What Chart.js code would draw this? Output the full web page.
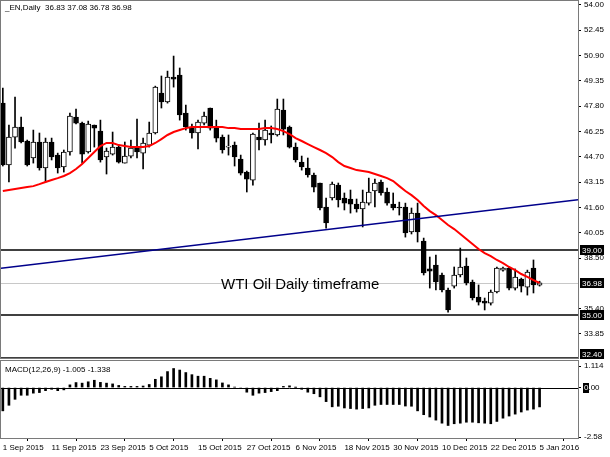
<!DOCTYPE html>
<html><head><meta charset="utf-8">
<script src="https://cdn.jsdelivr.net/npm/chart.js@4.4.1/dist/chart.umd.min.js"></script>
<style>
html,body{margin:0;padding:0;background:#fff;}
#wrap{position:relative;width:610px;height:457px;overflow:hidden;background:#fff;}
#main{position:absolute;left:0;top:0;}
#macd{position:absolute;left:0;top:359px;}
</style></head><body>
<div id="wrap"><canvas id="main" width="610" height="359"></canvas><canvas id="macd" width="610" height="98"></canvas></div>
<script>
// ---- data ----
const opens  = [47.98,44.19,45.90,46.52,45.66,44.62,45.60,44.01,45.60,44.80,44.07,44.99,47.13,46.76,44.99,46.64,46.27,44.68,44.86,45.29,44.31,44.74,45.23,44.92,45.41,46.15,48.60,48.05,49.58,49.70,47.37,46.52,46.15,46.76,47.68,46.52,45.90,45.29,45.41,44.56,43.76,43.27,45.90,45.72,46.15,46.03,47.56,46.52,45.29,44.37,44.01,43.58,43.09,41.62,42.17,42.96,42.17,42.11,41.80,41.50,41.86,42.60,43.15,42.54,41.80,41.62,41.62,40.09,41.25,39.54,37.83,38.07,37.46,36.54,36.78,37.46,38.01,37.03,36.11,35.87,35.74,36.42,37.76,37.89,36.66,37.21,36.72,37.89,36.83];
const highs  = [48.90,46.64,48.35,47.13,45.72,46.33,46.15,45.84,45.84,44.92,45.11,47.37,47.62,46.82,46.88,46.64,46.94,45.23,46.21,45.41,45.60,45.72,47.01,45.84,46.82,49.02,49.64,49.94,50.86,50.13,47.86,46.70,46.94,47.43,47.68,46.94,46.03,46.03,45.60,44.80,43.82,46.15,46.76,46.94,46.58,48.23,48.23,46.58,45.54,44.74,44.62,43.70,43.09,42.17,43.15,43.09,42.48,42.66,42.11,42.66,43.39,43.33,43.27,42.78,42.48,41.92,41.86,41.56,41.86,39.72,38.56,38.68,37.58,36.66,37.95,39.11,38.50,37.15,36.85,36.05,36.54,37.95,37.95,37.95,37.83,37.27,37.76,38.38,37.08];
const lows   = [44.13,43.15,45.23,45.54,44.13,44.31,43.88,43.15,44.50,43.70,43.76,44.80,46.70,44.31,44.92,45.29,44.37,43.64,44.80,44.31,44.31,44.62,44.62,43.95,45.29,46.09,47.68,47.98,48.96,46.94,46.33,45.84,45.17,46.64,46.33,45.60,44.92,44.80,44.13,43.58,42.54,42.96,45.11,45.41,45.54,45.96,46.03,45.23,44.37,43.88,43.45,42.54,41.44,40.33,42.05,41.62,41.44,41.25,41.31,40.40,41.74,41.62,42.35,41.74,41.44,41.13,39.78,39.97,39.48,37.46,36.66,36.54,36.42,35.19,36.66,37.34,36.85,35.93,35.62,35.32,35.62,36.36,37.70,36.54,36.54,36.42,36.23,36.36,36.78];
const closes = [44.19,45.90,46.52,45.60,44.19,45.60,44.01,45.60,44.68,44.01,44.99,47.19,46.76,44.86,46.70,46.45,44.50,45.05,45.29,44.37,44.74,45.23,44.99,45.54,46.15,48.96,48.05,49.58,49.45,47.25,46.52,46.15,46.82,47.19,46.45,45.84,45.11,45.35,44.68,43.70,43.33,46.09,45.72,46.33,46.03,47.62,46.39,45.29,44.50,44.07,43.58,42.84,41.56,40.64,43.02,42.05,41.86,41.80,41.50,41.92,42.54,43.09,42.48,41.86,41.56,41.56,40.03,41.25,40.09,37.58,37.70,37.03,36.54,35.32,37.46,37.95,36.97,36.05,35.80,35.74,36.42,37.89,37.89,36.66,37.34,36.78,37.64,36.85,36.98];
const maValues = [42.60,42.66,42.72,42.78,42.84,42.90,43.02,43.15,43.27,43.39,43.52,43.70,43.95,44.25,44.62,44.99,45.35,45.54,45.54,45.41,45.35,45.29,45.29,45.29,45.35,45.54,45.78,46.03,46.21,46.33,46.45,46.52,46.52,46.52,46.52,46.52,46.52,46.45,46.45,46.39,46.39,46.39,46.39,46.45,46.45,46.39,46.27,46.09,45.84,45.66,45.47,45.29,45.11,44.92,44.68,44.37,44.13,44.01,43.88,43.82,43.76,43.64,43.52,43.39,43.21,42.90,42.60,42.35,42.05,41.68,41.37,41.13,40.82,40.52,40.27,39.97,39.66,39.36,39.05,38.80,38.62,38.38,38.19,37.95,37.76,37.52,37.34,37.15,36.97];
const macdHist = [-1.21,-0.92,-0.61,-0.40,-0.40,-0.29,-0.26,-0.16,-0.09,-0.16,-0.12,0.14,0.26,0.23,0.30,0.38,0.27,0.23,0.19,0.11,0.06,0.06,0.06,0.08,0.16,0.43,0.56,0.83,0.99,0.91,0.78,0.67,0.59,0.59,0.48,0.40,0.24,0.14,0.02,-0.05,-0.24,-0.40,-0.29,-0.26,-0.21,-0.16,0.06,0.09,0.01,-0.09,-0.24,-0.32,-0.48,-0.73,-1.00,-0.97,-1.06,-1.09,-1.12,-1.09,-1.06,-0.92,-0.88,-0.88,-0.88,-0.88,-0.96,-0.97,-1.21,-1.41,-1.53,-1.69,-1.85,-1.97,-1.88,-1.85,-1.80,-1.80,-1.83,-1.85,-1.88,-1.76,-1.59,-1.48,-1.38,-1.27,-1.17,-1.12,-1.005];
const trendX = [-0.3, 94.3];
const trendY = [37.87, 42.07];
const levelLines = [39.00, 35.00, 32.40];
const lastPrice = 36.98;
const priceTicks = [54.00,52.45,50.90,49.35,47.80,46.25,44.70,43.15,41.60,40.05,38.50,35.40,33.85];
const macdTicks = [1.114, 0, -2.58];
const macdZeroLevel = 0;
const dateLabels = ['1 Sep 2015','11 Sep 2015','23 Sep 2015','5 Oct 2015','15 Oct 2015','27 Oct 2015','6 Nov 2015','18 Nov 2015','30 Nov 2015','10 Dec 2015','22 Dec 2015','5 Jan 2016'];
const dateIndex = [0,8,16,24,32,40,48,56,64,72,80,88];
const headerText = '_EN,Daily  36.83 37.08 36.78 36.98';
const noteText = 'WTI Oil Daily timeframe';
const macdTitle = 'MACD(12,26,9) -1.005 -1.338';

// ---- config ----
const FONT = '"Liberation Sans", Arial, sans-serif';
Chart.defaults.font.family = FONT;
Chart.defaults.font.size = 8;
Chart.defaults.color = '#000';
const X_MIN = -0.3, X_MAX = 94.3;

const wickData = lows.map((l,i)=>({x:i, y:[l, highs[i]]}));
const bodyData = opens.map((o,i)=>({x:i, y:[o, closes[i]]}));
const bodyFill = opens.map((o,i)=> closes[i] >= o ? '#ffffff' : '#000000');

const framePlugin = {
  id:'frame',
  afterDatasetsDraw(chart){
    const {ctx, chartArea:a} = chart;
    ctx.save();
    ctx.strokeStyle = '#7a7a7a'; ctx.lineWidth = 1;
    ctx.strokeRect(Math.round(a.left)-0.5, Math.round(a.top)-0.5, Math.round(a.right-a.left)+1, Math.round(a.bottom-a.top)+1);
    ctx.restore();
  }
};

function boxLabel(ctx, x, y, text){
  ctx.font = '8px ' + FONT;
  const w = ctx.measureText(text).width + 4;
  ctx.fillStyle = '#000';
  ctx.fillRect(x, Math.round(y-5), w, 10);
  ctx.fillStyle = '#fff';
  ctx.textBaseline = 'middle'; ctx.textAlign = 'left';
  ctx.fillText(text, x+2, y+0.5);
}

const mainPlugin = {
  id:'mainExtras',
  beforeDatasetsDraw(chart){
    const {ctx, chartArea:a, scales:{y}} = chart;
    ctx.save();
    ctx.beginPath(); ctx.rect(a.left, a.top, a.right-a.left, a.bottom-a.top+2); ctx.clip();
    // bid line
    let py = Math.round(y.getPixelForValue(lastPrice))+0.5;
    ctx.strokeStyle = '#c8c8c8'; ctx.lineWidth = 1;
    ctx.beginPath(); ctx.moveTo(a.left, py); ctx.lineTo(a.right, py); ctx.stroke();
    // horizontal levels
    ctx.strokeStyle = '#000'; ctx.lineWidth = 1.3;
    levelLines.forEach(v=>{
      const p = Math.round(y.getPixelForValue(v));
      ctx.beginPath(); ctx.moveTo(a.left, p); ctx.lineTo(a.right, p); ctx.stroke();
    });
    ctx.restore();
  },
  afterDraw(chart){
    const {ctx, chartArea:a, scales:{y}} = chart;
    ctx.save();
    ctx.fillStyle = '#000'; ctx.textBaseline = 'middle'; ctx.textAlign='left';
    ctx.font = '8px ' + FONT;
    ctx.fillText(headerText, 5, 8);
    ctx.font = '15px ' + FONT;
    ctx.fillText(noteText, 221, y.getPixelForValue(lastPrice)+2);
    levelLines.forEach(v=>{
      let p = y.getPixelForValue(v);
      if (p > a.bottom - 4) p = a.bottom - 4;
      boxLabel(ctx, a.right+2, p, v.toFixed(2));
    });
    boxLabel(ctx, a.right+2, y.getPixelForValue(lastPrice), lastPrice.toFixed(2));
    ctx.restore();
  }
};

new Chart(document.getElementById('main'), {
  type:'bar',
  data:{ datasets:[
    { type:'line', data: trendX.map((x,i)=>({x, y:trendY[i]})), borderColor:'#00008b', borderWidth:1.5, pointRadius:0, order:0 },
    { type:'line', data: maValues.map((v,i)=>({x:i, y:v})), borderColor:'#ff0000', borderWidth:2, pointRadius:0, tension:0, order:1 },
    { type:'bar', data: bodyData, backgroundColor: bodyFill, borderColor:'#000', borderWidth:1, borderSkipped:false, barThickness:5, grouped:false, order:3 },
    { type:'bar', data: wickData, backgroundColor:'#000', borderWidth:0, barThickness:1, grouped:false, order:4 }
  ]},
  options:{
    responsive:false, animation:false, events:[],
    layout:{ padding:{left:1, top:1, right:0, bottom:1} },
    plugins:{ legend:{display:false}, tooltip:{enabled:false} },
    scales:{
      x:{ type:'linear', min:X_MIN, max:X_MAX, offset:false, display:false },
      y:{ type:'linear', position:'right', min:32.38, max:54.23,
          afterBuildTicks(s){ s.ticks = priceTicks.map(v=>({value:v})); },
          afterFit(s){ s.width = 32; s.paddingTop = 0; s.paddingBottom = 0; },
          ticks:{ callback:(v)=>Number(v).toFixed(2), padding:3, font:{size:8} },
          grid:{ drawOnChartArea:false, tickLength:3, color:'#000' },
          border:{ display:true, color:'#7a7a7a' } }
    }
  },
  plugins:[framePlugin, mainPlugin]
});

const macdPlugin = {
  id:'macdExtras',
  beforeDatasetsDraw(chart){
    const {ctx, chartArea:a, scales:{y}} = chart;
    const p = Math.round(y.getPixelForValue(macdZeroLevel))+0.5;
    ctx.save(); ctx.strokeStyle='#000'; ctx.lineWidth=1;
    ctx.beginPath(); ctx.moveTo(a.left,p); ctx.lineTo(a.right,p); ctx.stroke(); ctx.restore();
  },
  afterDraw(chart){
    const {ctx, chartArea:a, scales:{y}} = chart;
    ctx.save();
    ctx.fillStyle='#000'; ctx.textBaseline='middle'; ctx.textAlign='left';
    ctx.font = '8px ' + FONT;
    ctx.fillText(macdTitle, 5, a.top + 9);
    const p = y.getPixelForValue(macdZeroLevel);
    ctx.fillRect(a.right+5, Math.round(p-5), 6, 10);
    ctx.fillStyle='#fff'; ctx.fillText('0', a.right+6, p+0.5);
    ctx.restore();
  }
};

new Chart(document.getElementById('macd'), {
  type:'bar',
  data:{ datasets:[
    { data: macdHist.map((v,i)=>({x:i, y:v})), backgroundColor:'#000', borderWidth:0, barThickness:2, grouped:false }
  ]},
  options:{
    responsive:false, animation:false, events:[],
    layout:{ padding:{left:1, top:2, right:0, bottom:0} },
    plugins:{ legend:{display:false}, tooltip:{enabled:false} },
    scales:{
      x:{ type:'linear', min:X_MIN, max:X_MAX, offset:false,
          afterBuildTicks(s){ s.ticks = dateIndex.map(v=>({value:v})); },
          afterFit(s){ s.height = 19; s.paddingLeft = 0; s.paddingRight = 0; },
          ticks:{ callback:(v,i)=>dateLabels[i], align:'start', maxRotation:0, autoSkip:false, padding:2, font:{size:8} },
          grid:{ drawOnChartArea:false, tickLength:3, color:'#000' },
          border:{ display:false } },
      y:{ type:'linear', position:'right', min:-2.62, max:1.38,
          afterBuildTicks(s){ s.ticks = macdTicks.map(v=>({value:v})); },
          afterFit(s){ s.width = 32; s.paddingTop = 0; s.paddingBottom = 0; },
          ticks:{ callback:(v)=> v===0 ? '0.00' : String(v), padding:3, font:{size:8} },
          grid:{ drawOnChartArea:false, tickLength:3, color:'#000' },
          border:{ display:true, color:'#7a7a7a' } }
    }
  },
  plugins:[framePlugin, macdPlugin]
});
</script>
</body></html>
